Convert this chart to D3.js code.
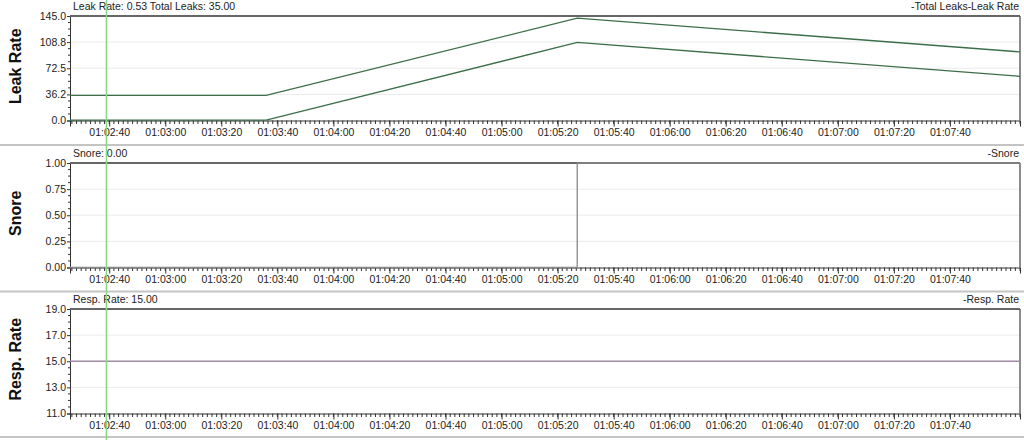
<!DOCTYPE html>
<html><head><meta charset="utf-8">
<script src="https://cdn.jsdelivr.net/npm/d3@7"></script>
<style>
html,body{margin:0;padding:0;background:#fff;}
svg{display:block;font-family:"Liberation Sans",Arial,sans-serif;}
</style></head>
<body><svg id="c" width="1024" height="440"></svg>
<script>
// ---- data ----
const domainTimes = ["01:02:26", "01:08:05"];
const leakTimes = ["01:02:26", "01:03:36", "01:05:27", "01:08:05"];
const totalLeaks = [35, 35, 142, 95.2];
const leakRate = [0.53, 0.53, 108.3, 61.3];
const snoreTimes = ["01:02:26", "01:05:27", "01:08:05"];
const snoreValues = [0, 1, 1];
const respTimes = ["01:02:26", "01:08:05"];
const respValues = [15, 15];
const xTickLabels = ["01:02:40","01:03:00","01:03:20","01:03:40","01:04:00","01:04:20","01:04:40","01:05:00","01:05:20","01:05:40","01:06:00","01:06:20","01:06:40","01:07:00","01:07:20","01:07:40"];
const leakTicks = [0, 36.2, 72.5, 108.8, 145];
const snoreTicks = [0, 0.25, 0.5, 0.75, 1];
const respTicks = [11, 13, 15, 17, 19];
const cursorTime = "01:02:39";
const panelTitles = ["Leak Rate: 0.53 Total Leaks: 35.00", "Snore: 0.00", "Resp. Rate: 15.00"];
const panelLegends = ["-Total Leaks-Leak Rate", "-Snore", "-Resp. Rate"];
const yLabels = ["Leak Rate", "Snore", "Resp. Rate"];

// ---- helpers ----
const parse = d3.timeParse("%H:%M:%S");
const svg = d3.select("#c");
const X0 = 70, X1 = 1020;
const x = d3.scaleTime().domain(domainTimes.map(parse)).range([X0, X1]);

const panels = [
  {top: 16, bottom: 120.5, domain: [0, 145], ticks: leakTicks, fmt: d3.format(".1f"), minor: 4},
  {top: 163, bottom: 267.5, domain: [0, 1], ticks: snoreTicks, fmt: d3.format(".2f"), minor: 4},
  {top: 309, bottom: 413.5, domain: [11, 19], ticks: respTicks, fmt: d3.format(".1f"), minor: 4}
];
const seps = [145, 291.5, 437];

seps.forEach(s => svg.append("line").attr("x1", 0).attr("x2", 1024).attr("y1", s).attr("y2", s)
  .attr("stroke", "#c4c4c4").attr("stroke-width", 2));

panels.forEach((p, i) => {
  const y = d3.scaleLinear().domain(p.domain).range([p.bottom, p.top]);
  p.y = y;
  const g = svg.append("g");
  // gridlines
  g.selectAll(".grid").data(p.ticks.slice(1, -1)).join("line")
    .attr("x1", X0).attr("x2", X1).attr("y1", d => y(d)).attr("y2", d => y(d))
    .attr("stroke", "#ebebeb").attr("stroke-width", 1);
  // y minor ticks
  const minorY = [];
  for (let k = 0; k < p.ticks.length - 1; k++) {
    const a = p.ticks[k], b = p.ticks[k + 1];
    for (let m = 1; m < p.minor; m++) minorY.push(a + (b - a) * m / p.minor);
  }
  g.selectAll(".ymin").data(minorY).join("line")
    .attr("x1", X0 - 2).attr("x2", X0).attr("y1", d => y(d)).attr("y2", d => y(d))
    .attr("stroke", "#333");
  // y axis
  const ya = d3.axisLeft(y).tickValues(p.ticks).tickFormat(p.fmt).tickSize(3).tickPadding(1);
  const yg = g.append("g").attr("transform", `translate(${X0},0)`).call(ya);
  yg.select(".domain").attr("stroke", "#333");
  yg.selectAll("text").attr("font-size", 10.5).attr("fill", "#222")
    .attr("font-family", "'Liberation Sans',Arial,sans-serif");
  yg.selectAll(".tick line").attr("stroke", "#333");
  // x minor ticks
  const t0 = parse(xTickLabels[0]).getTime();
  const minorX = [];
  const step = 20000 / 12;
  const [d0, d1] = x.domain().map(d => d.getTime());
  for (let t = t0 - Math.floor((t0 - d0) / step) * step; t <= d1; t += step) minorX.push(new Date(t));
  g.selectAll(".xmin").data(minorX).join("line")
    .attr("x1", d => x(d)).attr("x2", d => x(d)).attr("y1", p.bottom).attr("y2", p.bottom + 3.5)
    .attr("stroke", "#333");
  // x axis
  const xa = d3.axisBottom(x).tickValues(xTickLabels.map(parse)).tickFormat(d3.timeFormat("%H:%M:%S"))
    .tickSize(6).tickPadding(2);
  const xg = g.append("g").attr("transform", `translate(0,${p.bottom})`).call(xa);
  xg.select(".domain").attr("stroke", "#333");
  xg.selectAll(".tick line").attr("stroke", "#333");
  xg.selectAll("text").attr("font-size", 10.5).attr("fill", "#222")
    .attr("font-family", "'Liberation Sans',Arial,sans-serif");
  // frame top / right
  g.append("line").attr("x1", X0).attr("x2", X1).attr("y1", p.top).attr("y2", p.top)
    .attr("stroke", "#666").attr("stroke-width", 2);
  g.append("line").attr("x1", X1).attr("x2", X1).attr("y1", p.top).attr("y2", p.bottom)
    .attr("stroke", "#666").attr("stroke-width", 1.5);
  // titles
  g.append("text").attr("x", 73).attr("y", p.top - 10).attr("dominant-baseline", "central")
    .attr("font-size", 10.5).attr("fill", "#222").text(panelTitles[i]);
  g.append("text").attr("x", 1019).attr("y", p.top - 10).attr("dominant-baseline", "central")
    .attr("text-anchor", "end").attr("font-size", 10.5).attr("fill", "#222").text(panelLegends[i]);
  // y label
  const cy = (p.top + p.bottom) / 2 - 2;
  g.append("text").attr("transform", `translate(15,${cy}) rotate(-90)`)
    .attr("text-anchor", "middle").attr("dominant-baseline", "central")
    .attr("font-size", 16).attr("font-weight", "bold").attr("fill", "#111").text(yLabels[i]);
});

// ---- series ----
const leakLine = d3.line().x(d => x(d[0])).y(d => panels[0].y(d[1]));
svg.append("path").datum(leakTimes.map((t, i) => [parse(t), totalLeaks[i]]))
  .attr("d", leakLine).attr("fill", "none").attr("stroke", "#3c6e48").attr("stroke-width", 1.3);
svg.append("path").datum(leakTimes.map((t, i) => [parse(t), leakRate[i]]))
  .attr("d", leakLine).attr("fill", "none").attr("stroke", "#3c6e48").attr("stroke-width", 1.3);

const snoreLine = d3.line().curve(d3.curveStepAfter).x(d => x(d[0])).y(d => panels[1].y(d[1]));
svg.append("path").datum(snoreTimes.map((t, i) => [parse(t), snoreValues[i]]))
  .attr("d", snoreLine).attr("fill", "none").attr("stroke", "#888").attr("stroke-width", 1.3);

const respLine = d3.line().x(d => x(d[0])).y(d => panels[2].y(d[1]));
svg.append("path").datum(respTimes.map((t, i) => [parse(t), respValues[i]]))
  .attr("d", respLine).attr("fill", "none").attr("stroke", "#a48aa6").attr("stroke-width", 1.6);

// cursor
const cx = x(parse(cursorTime));
svg.append("line").attr("x1", cx).attr("x2", cx).attr("y1", 0).attr("y2", 440)
  .attr("stroke", "#86d886").attr("stroke-width", 1.5);
</script></body></html>
